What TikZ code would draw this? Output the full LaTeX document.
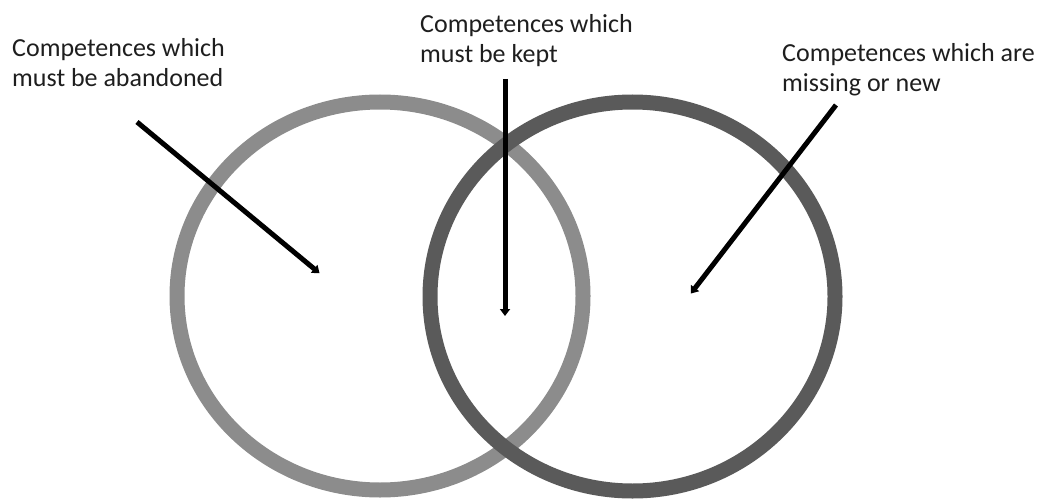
\documentclass[tikz,border=0pt]{standalone}
\usepackage{fontspec}
\setmainfont{Carlito}
\usetikzlibrary{arrows.meta}
\definecolor{ringlight}{HTML}{8C8C8C}
\definecolor{ringdark}{HTML}{5A5A5A}
\definecolor{labeltext}{HTML}{1E1E1E}
\begin{document}
\begin{tikzpicture}[x=1pt,y=-1pt,
  ring/.style={line width=15pt},
  pointer/.style={line width=5pt,black,-{Triangle[length=7pt,width=10pt]},shorten >=-2pt},
  label/.style={inner sep=0pt,anchor=base west,align=left,font=\fontsize{26}{30}\selectfont,text=labeltext}]
\useasboundingbox (0,0) rectangle (1040,500);
\draw[ring,ringlight] (380,296) ellipse [x radius=203,y radius=194];
\draw[ring,ringdark] (632.5,296.5) ellipse [x radius=202.5,y radius=194.5];
\node[label] (lab1) at (12,87) {Competences which\\must be abandoned};
\node[label] (lab2) at (420,63) {Competences which\\must be kept};
\node[label] (lab3) at (782,92) {Competences which are\\missing or new};
\coordinate (s1) at (137,122);
\coordinate (e1) at (318,272);
\coordinate (s2) at (505,79);
\coordinate (e2) at (505,314);
\coordinate (s3) at (836,105);
\coordinate (e3) at (692,292);
\draw[pointer] (s1) -- (e1);
\draw[pointer] (s2) -- (e2);
\draw[pointer] (s3) -- (e3);
\end{tikzpicture}
\end{document}
